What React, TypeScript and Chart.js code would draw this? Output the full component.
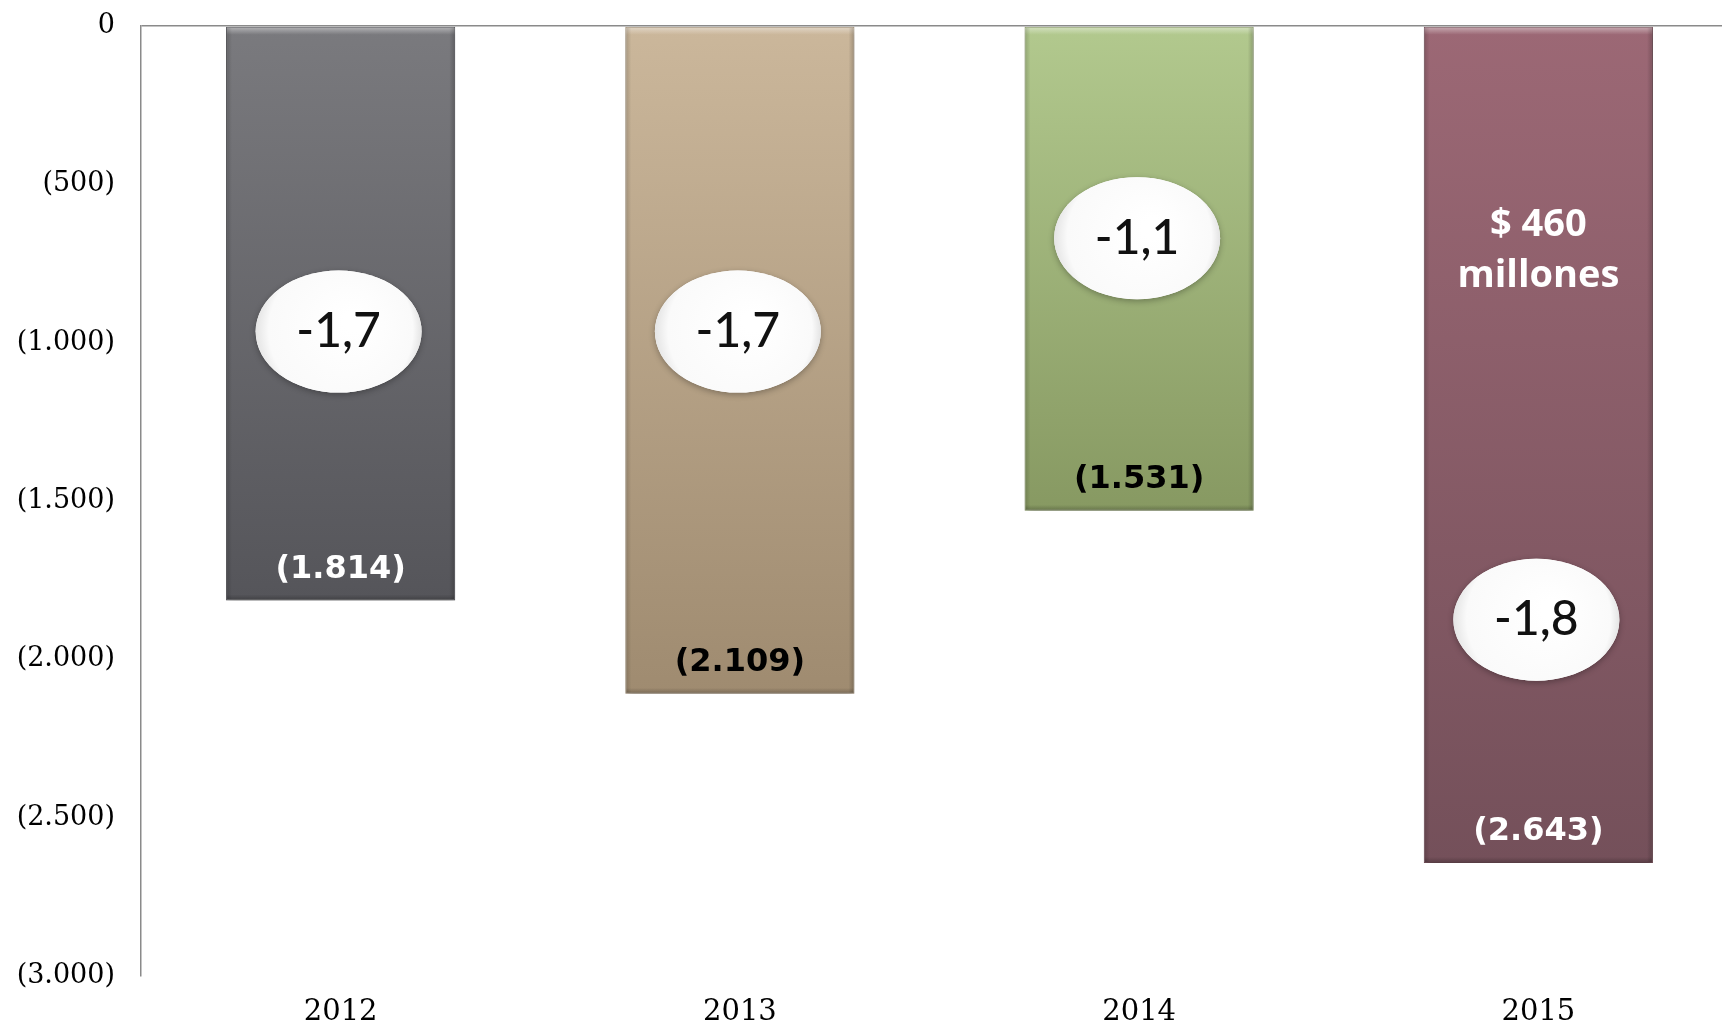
import React, { useEffect, useRef } from "react";
import { Chart, registerables } from "chart.js";

Chart.register(...registerables);

const years = ["2012", "2013", "2014", "2015"];
const deficit = [-1814, -2109, -1531, -2643];
const labelColors = ["#ffffff", "#000000", "#000000", "#ffffff"];
const barTopColors = ["#7a7a7e", "#cbb79b", "#b2c98e", "#9c6875"];
const barBottomColors = ["#55555a", "#9f8b70", "#879962", "#74505a"];
const bubbleLabels = ["-1,7", "-1,7", "-1,1", "-1,8"];
const bubbleValues = [-965, -965, -670, -1875];
const noteIndex = 3;
const noteValue = -708;
const noteLines = ["$ 460", "millones"];
const yTicks = [0, -500, -1000, -1500, -2000, -2500, -3000];

function fmt(v: number): string {
  if (v === 0) return "0";
  const s = Math.abs(v).toString().replace(/\B(?=(\d{3})+(?!\d))/g, ".");
  return v < 0 ? "(" + s + ")" : s;
}

const overlayPlugin = {
  id: "overlay",
  beforeDatasetsDraw(chart: any) {
    const ctx = chart.ctx;
    ctx.save();
    ctx.shadowColor = "rgba(0,0,0,0.35)";
    ctx.shadowBlur = 7;
    ctx.shadowOffsetX = 1;
    ctx.shadowOffsetY = 3;
  },
  afterDatasetsDraw(chart: any) {
    const ctx = chart.ctx;
    ctx.restore();
    const meta = chart.getDatasetMeta(0);
    const x = chart.scales.x;
    const y = chart.scales.y;
    meta.data.forEach((bar: any) => {
      const left = bar.x - bar.width / 2;
      const top = Math.min(bar.y, bar.base);
      const bottom = Math.max(bar.y, bar.base);
      ctx.save();
      const g = ctx.createLinearGradient(0, top, 0, top + 8);
      g.addColorStop(0, "rgba(255,255,255,0.45)");
      g.addColorStop(1, "rgba(255,255,255,0)");
      ctx.fillStyle = g;
      ctx.fillRect(left + 1, top + 1, bar.width - 2, 8);
      const gl = ctx.createLinearGradient(left, 0, left + 6, 0);
      gl.addColorStop(0, "rgba(0,0,0,0.18)");
      gl.addColorStop(1, "rgba(0,0,0,0)");
      ctx.fillStyle = gl;
      ctx.fillRect(left + 1, top + 1, 6, bottom - top - 2);
      const gr = ctx.createLinearGradient(left + bar.width - 6, 0, left + bar.width, 0);
      gr.addColorStop(0, "rgba(0,0,0,0)");
      gr.addColorStop(1, "rgba(0,0,0,0.22)");
      ctx.fillStyle = gr;
      ctx.fillRect(left + bar.width - 7, top + 1, 6, bottom - top - 2);
      const gb = ctx.createLinearGradient(0, bottom - 6, 0, bottom);
      gb.addColorStop(0, "rgba(0,0,0,0)");
      gb.addColorStop(1, "rgba(0,0,0,0.25)");
      ctx.fillStyle = gb;
      ctx.fillRect(left + 1, bottom - 7, bar.width - 2, 6);
      ctx.restore();
    });
    meta.data.forEach((bar: any, i: number) => {
      ctx.save();
      ctx.font = "bold 32px 'DejaVu Sans'";
      ctx.fillStyle = labelColors[i];
      ctx.textAlign = "center";
      ctx.textBaseline = "middle";
      ctx.fillText(fmt(deficit[i]), bar.x, bar.y - 31);
      ctx.restore();
    });
    bubbleValues.forEach((v, i) => {
      const cx = x.getPixelForValue(i) - 2;
      const cy = y.getPixelForValue(v);
      const rx = 83;
      const ry = 61;
      ctx.save();
      ctx.shadowColor = "rgba(0,0,0,0.3)";
      ctx.shadowBlur = 6;
      ctx.shadowOffsetY = 2;
      ctx.beginPath();
      ctx.ellipse(cx, cy, rx, ry, 0, 0, Math.PI * 2);
      ctx.fillStyle = "#ffffff";
      ctx.fill();
      ctx.restore();
      ctx.save();
      ctx.beginPath();
      ctx.ellipse(cx, cy, rx, ry, 0, 0, Math.PI * 2);
      const rg = ctx.createRadialGradient(cx + 15, cy - 10, 10, cx, cy, rx);
      rg.addColorStop(0, "rgba(255,255,255,1)");
      rg.addColorStop(0.85, "rgba(250,250,250,1)");
      rg.addColorStop(1, "rgba(228,228,228,1)");
      ctx.fillStyle = rg;
      ctx.fill();
      ctx.font = "500 48px Lato";
      ctx.fillStyle = "#111111";
      ctx.textAlign = "center";
      ctx.textBaseline = "middle";
      ctx.fillText(bubbleLabels[i], cx, cy);
      ctx.restore();
    });
    ctx.save();
    ctx.font = "bold 38px 'Open Sans'";
    ctx.fillStyle = "#ffffff";
    ctx.textAlign = "center";
    ctx.textBaseline = "middle";
    const nx = x.getPixelForValue(noteIndex);
    const ny = y.getPixelForValue(noteValue);
    ctx.fillText(noteLines[0], nx, ny - 25);
    ctx.fillText(noteLines[1], nx, ny + 26);
    ctx.restore();
  },
};

export default function App() {
  const ref = useRef<HTMLCanvasElement | null>(null);
  useEffect(() => {
    if (!ref.current) return;
    const chart = new Chart(ref.current, {
      type: "bar",
      data: {
        labels: years,
        datasets: [
          {
            data: deficit,
            backgroundColor: (c: any) => {
              const ch = c.chart;
              const area = ch.chartArea;
              const i = c.dataIndex;
              if (!area || i === undefined) return barTopColors[0];
              const yS = ch.scales.y;
              const g = ch.ctx.createLinearGradient(0, yS.getPixelForValue(0), 0, yS.getPixelForValue(deficit[i]));
              g.addColorStop(0, barTopColors[i]);
              g.addColorStop(1, barBottomColors[i]);
              return g;
            },
            borderColor: barBottomColors,
            borderWidth: 1,
            borderSkipped: false,
            barPercentage: 0.574,
            categoryPercentage: 1,
          },
        ],
      },
      options: {
        animation: false,
        responsive: false,
        maintainAspectRatio: false,
        layout: { padding: { left: 16, right: 2, top: 26, bottom: 0 } },
        plugins: { legend: { display: false }, tooltip: { enabled: false } },
        scales: {
          x: {
            position: "bottom",
            grid: { display: false, drawTicks: false },
            border: { display: false },
            ticks: {
              color: "#000000",
              font: { family: "'DejaVu Serif'", size: 29 },
              padding: 19,
            },
            afterFit: (s: any) => {
              s.height = 48;
            },
          },
          y: {
            min: -3000,
            max: 0,
            afterBuildTicks: (s: any) => {
              s.ticks = yTicks.map((v) => ({ value: v }));
            },
            grid: {
              drawTicks: false,
              color: (c: any) => (c.tick && c.tick.value === 0 ? "#8a8a8a" : "rgba(0,0,0,0)"),
              lineWidth: 1.5,
            },
            border: { display: true, color: "#8a8a8a", width: 1.5 },
            ticks: {
              color: "#000000",
              font: { family: "'DejaVu Serif'", size: 27, lineHeight: 1.0 },
              padding: 26,
              callback: (v: any) => fmt(Number(v)),
            },
            afterFit: (s: any) => {
              s.width = 125;
              s.paddingTop = 0;
              s.paddingBottom = 0;
            },
          },
        },
      },
      plugins: [overlayPlugin],
    });
    return () => chart.destroy();
  }, []);
  return (
    <div style={{ position: "fixed", left: 0, top: 0, width: 1722, height: 1024, overflow: "hidden", background: "#ffffff" }}>
      <canvas ref={ref} width={1740} height={1024} style={{ display: "block", width: 1740, height: 1024 }} />
    </div>
  );
}
